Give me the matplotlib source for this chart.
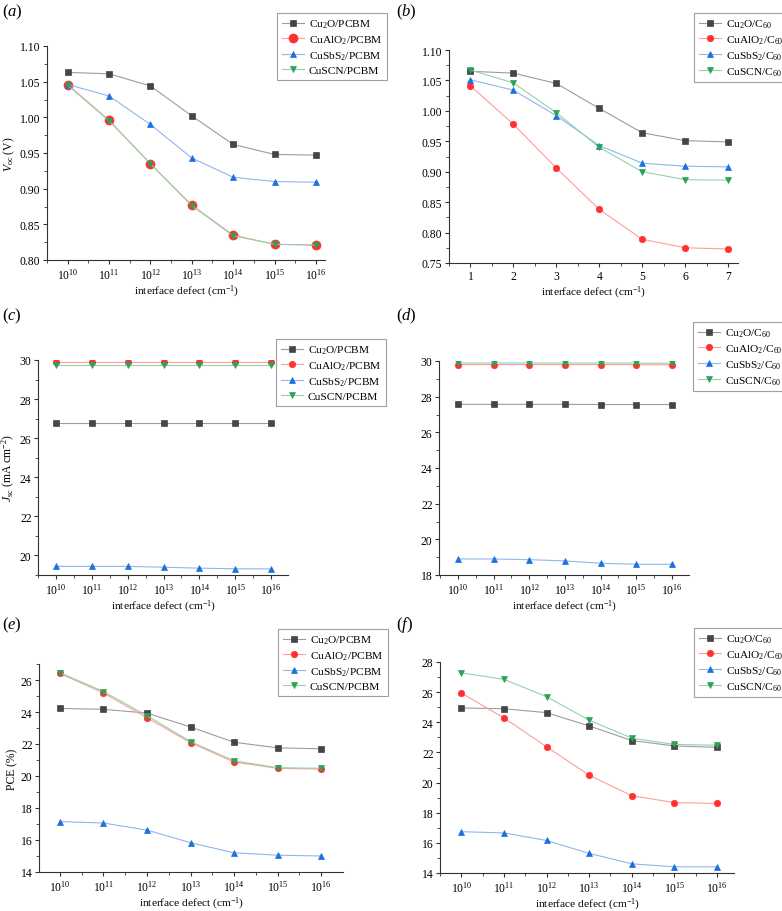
import numpy as np
import matplotlib
matplotlib.use('Agg')
import matplotlib.pyplot as plt
from matplotlib.ticker import MultipleLocator, FixedLocator

plt.rcParams['font.family'] = ['Liberation Serif', 'DejaVu Serif']
plt.rcParams['mathtext.fontset'] = 'custom'
plt.rcParams['mathtext.rm'] = 'Liberation Serif'
plt.rcParams['mathtext.it'] = 'Liberation Serif:italic'
plt.rcParams['font.size'] = 8.2

# 数据
exp = [10, 11, 12, 13, 14, 15, 16]
idx = [1, 2, 3, 4, 5, 6, 7]
names_pcbm = ['Cu$_2$O/PCBM', 'CuAlO$_2$/PCBM', 'CuSbS$_2$/PCBM', 'CuSCN/PCBM']
names_c60 = ['Cu$_2$O/C$_{60}$', 'CuAlO$_2$/C$_{60}$', 'CuSbS$_2$/C$_{60}$', 'CuSCN/C$_{60}$']

voc_pcbm_cu2o = [1.063, 1.061, 1.044, 1.002, 0.962, 0.948, 0.947]
voc_pcbm_cualo2 = [1.046, 0.996, 0.935, 0.877, 0.835, 0.822, 0.821]
voc_pcbm_cusbs2 = [1.046, 1.030, 0.990, 0.943, 0.916, 0.910, 0.909]
voc_pcbm_cuscn = [1.045, 0.995, 0.935, 0.876, 0.834, 0.822, 0.821]

voc_c60_cu2o = [1.065, 1.062, 1.045, 1.004, 0.964, 0.951, 0.949]
voc_c60_cualo2 = [1.041, 0.978, 0.906, 0.838, 0.789, 0.775, 0.773]
voc_c60_cusbs2 = [1.051, 1.034, 0.992, 0.943, 0.914, 0.909, 0.908]
voc_c60_cuscn = [1.067, 1.046, 0.997, 0.940, 0.900, 0.887, 0.886]

jsc_pcbm_cu2o = [26.78, 26.78, 26.78, 26.78, 26.78, 26.78, 26.78]
jsc_pcbm_cualo2 = [29.88, 29.88, 29.88, 29.88, 29.88, 29.88, 29.88]
jsc_pcbm_cusbs2 = [19.42, 19.42, 19.42, 19.38, 19.33, 19.30, 19.29]
jsc_pcbm_cuscn = [29.75, 29.75, 29.75, 29.75, 29.75, 29.75, 29.75]

jsc_c60_cu2o = [27.57, 27.57, 27.57, 27.57, 27.56, 27.56, 27.56]
jsc_c60_cualo2 = [29.80, 29.80, 29.80, 29.80, 29.80, 29.79, 29.79]
jsc_c60_cusbs2 = [18.90, 18.90, 18.86, 18.79, 18.66, 18.60, 18.60]
jsc_c60_cuscn = [29.89, 29.89, 29.89, 29.89, 29.89, 29.88, 29.88]

pce_pcbm_cu2o = [24.22, 24.17, 23.93, 23.06, 22.11, 21.76, 21.70]
pce_pcbm_cualo2 = [26.41, 25.19, 23.64, 22.08, 20.87, 20.48, 20.43]
pce_pcbm_cusbs2 = [17.15, 17.06, 16.62, 15.83, 15.20, 15.05, 15.00]
pce_pcbm_cuscn = [26.46, 25.28, 23.77, 22.15, 20.95, 20.52, 20.48]

pce_c60_cu2o = [24.95, 24.90, 24.64, 23.76, 22.79, 22.43, 22.34]
pce_c60_cualo2 = [25.94, 24.29, 22.38, 20.49, 19.13, 18.67, 18.62]
pce_c60_cusbs2 = [16.74, 16.66, 16.16, 15.30, 14.61, 14.41, 14.41]
pce_c60_cuscn = [27.28, 26.85, 25.70, 24.14, 22.95, 22.53, 22.48]

mk_col = ['#454545', '#ff3030', '#1c6fe0', '#2aa358']
ln_col = ['#9c9c9c', '#ff9c9c', '#8fb6ee', '#92d3aa']
markers = ['s', 'o', '^', 'v']
msizes = [4.2, 4.6, 4.8, 4.8]

W, H = 782, 912
fig = plt.figure(figsize=(W / 100, H / 100), dpi=100)

def make_ax(l, r, t, b):
    return fig.add_axes([l / W, 1 - b / H, (r - l) / W, (b - t) / H])

panels = [
    # rect px, x, series, names, xlim, ylim, ymajor, yfmt, ylabel, legend pos, label pos, big circle
    ((47, 325, 47, 261), exp, [voc_pcbm_cu2o, voc_pcbm_cualo2, voc_pcbm_cusbs2, voc_pcbm_cuscn],
     names_pcbm, (9.5, 16.22), (0.80, 1.10), 0.05, '%.2f', '$V_{\\rm oc}$ (V)', (277, 14), (2, 12), True),
    ((449, 738, 51, 264), idx, [voc_c60_cu2o, voc_c60_cualo2, voc_c60_cusbs2, voc_c60_cuscn],
     names_c60, (0.5, 7.23), (0.75, 1.10), 0.05, '%.2f', None, (694, 14), (396, 12), False),
    ((38, 288, 361, 576), exp, [jsc_pcbm_cu2o, jsc_pcbm_cualo2, jsc_pcbm_cusbs2, jsc_pcbm_cuscn],
     names_pcbm, (9.5, 16.47), (18.98, 30), 2, '%d', '$J_{\\rm sc}$ (mA cm$^{-2}$)', (276, 340), (2, 316), False),
    ((439, 689, 362, 576), exp, [jsc_c60_cu2o, jsc_c60_cualo2, jsc_c60_cusbs2, jsc_c60_cuscn],
     names_c60, (9.47, 16.48), (18, 30), 2, '%d', None, (693, 323), (396, 316), False),
    ((39, 343, 665, 873), exp, [pce_pcbm_cu2o, pce_pcbm_cualo2, pce_pcbm_cusbs2, pce_pcbm_cuscn],
     names_pcbm, (9.52, 16.5), (14, 27), 2, '%d', 'PCE (%)', (278, 630), (2, 625), False),
    ((440, 734, 663, 874), exp, [pce_c60_cu2o, pce_c60_cualo2, pce_c60_cusbs2, pce_c60_cuscn],
     names_c60, (9.5, 16.4), (14, 28), 2, '%d', None, (694, 629), (396, 625), False),
]
letters = ['a', 'b', 'c', 'd', 'e', 'f']

for k, (rect, x, series, names, xlim, ylim, ymaj, yfmt, ylab, legpos, labpos, big) in enumerate(panels):
    ax = make_ax(*rect)
    for i, y in enumerate(series):
        ms = msizes[i]
        if big and i == 1:
            ms = 6.5
        ax.plot(x, y, color=ln_col[i], lw=0.8, marker=markers[i], ms=ms,
                mfc=mk_col[i], mec=mk_col[i], mew=0.5, label=names[i], zorder=3)
    ax.set_xlim(*xlim)
    ax.set_ylim(*ylim)
    ax.spines['top'].set_visible(False)
    ax.spines['right'].set_visible(False)
    for s in ['left', 'bottom']:
        ax.spines[s].set_color('#333333')
        ax.spines[s].set_linewidth(0.8)
    ax.xaxis.set_major_locator(FixedLocator(x))
    ax.xaxis.set_minor_locator(FixedLocator([v + 0.5 for v in x[:-1]] + [x[0] - 0.5]))
    if x is exp:
        ax.set_xticklabels(['$10^{%d}$' % e for e in exp])
    else:
        ax.set_xticklabels([str(v) for v in x])
    ax.yaxis.set_major_locator(MultipleLocator(ymaj))
    ax.yaxis.set_minor_locator(MultipleLocator(ymaj / 2))
    ax.yaxis.set_major_formatter(matplotlib.ticker.FormatStrFormatter(yfmt))
    ax.tick_params(which='major', direction='out', length=3.2, width=0.8, color='#333333', labelsize=8.4, pad=1.5)
    ax.tick_params(which='minor', direction='out', length=2.0, width=0.6, color='#333333')
    ax.set_xlabel('interface defect (cm$^{-1}$)', fontsize=8.2, labelpad=1.5)
    if ylab:
        ax.set_ylabel(ylab, fontsize=8.4, labelpad=2)
    leg = ax.legend(loc='upper left', bbox_to_anchor=(legpos[0] / W, 1 - legpos[1] / H),
                    bbox_transform=fig.transFigure, fontsize=8.2, frameon=True, fancybox=False,
                    edgecolor='#888888', borderaxespad=0, handlelength=2.0, handletextpad=0.4,
                    borderpad=0.4, labelspacing=0.3)
    leg.get_frame().set_linewidth(0.8)
    fig.text(labpos[0] / W, 1 - labpos[1] / H, '($%s$)' % letters[k], fontsize=12, va='center', ha='left')

fig.savefig('out.png', dpi=100)
